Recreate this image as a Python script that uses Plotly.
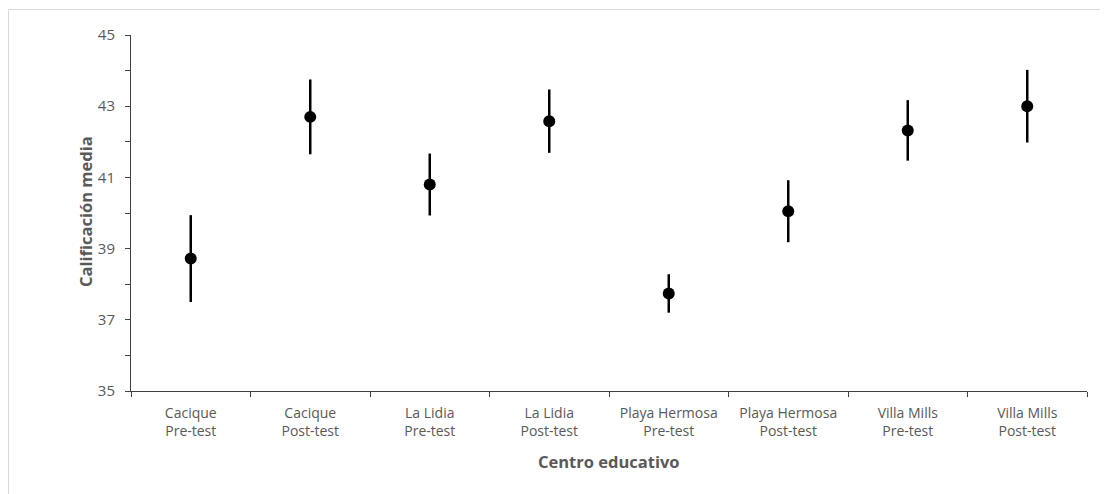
import plotly.graph_objects as go

categories = ["Cacique<br>Pre-test", "Cacique<br>Post-test", "La Lidia<br>Pre-test", "La Lidia<br>Post-test",
              "Playa Hermosa<br>Pre-test", "Playa Hermosa<br>Post-test", "Villa Mills<br>Pre-test", "Villa Mills<br>Post-test"]
means = [38.72, 42.70, 40.80, 42.58, 37.74, 40.05, 42.32, 43.00]
errors = [1.22, 1.05, 0.87, 0.89, 0.54, 0.87, 0.85, 1.02]
y_ticks = [35, 37, 39, 41, 43, 45]

FONT = "Open Sans"
GRAY = "#595959"
AXIS = "#404040"

OFF = 8  # page body offset
W, H = 1100, 486
L, R, T, B = 131 - OFF, 21, 35 - OFF, 103
pw, ph = W - L - R, H - T - B

def px(x):
    return (x - OFF - L) / pw

def py(y):
    return (H - B - (y - OFF)) / ph

fig = go.Figure()
fig.add_trace(go.Scatter(
    x=categories, y=means, mode="markers",
    marker=dict(color="black", size=12),
    error_y=dict(type="data", array=errors, visible=True, color="black", thickness=2.5, width=0),
    showlegend=False,
))

fig.update_layout(
    width=W, height=H,
    margin=dict(l=L, r=R, t=T, b=B),
    paper_bgcolor="white", plot_bgcolor="white",
    font=dict(family=FONT, color=GRAY, size=14),
    xaxis=dict(
        type="category", range=[-0.5, 7.5], showgrid=False, zeroline=False,
        showline=True, linecolor=AXIS, linewidth=1,
        ticks="outside", tickson="boundaries", ticklen=5, tickcolor=AXIS,
        ticklabelstandoff=9,
        tickfont=dict(family=FONT, size=14, color=GRAY),
    ),
    yaxis=dict(
        range=[35, 45], tickvals=y_ticks, showgrid=False, zeroline=False,
        showline=True, linecolor=AXIS, linewidth=1,
        ticks="outside", ticklen=5, tickcolor=AXIS,
        ticklabelstandoff=7,
        minor=dict(dtick=1, ticks="outside", ticklen=5, tickcolor=AXIS, showgrid=False),
        tickfont=dict(family=FONT, size=15, color=GRAY),
    ),
    annotations=[
        dict(text="<b>Centro educativo</b>", xref="paper", yref="paper", x=0.5, y=py(461),
             showarrow=False, xanchor="center", yanchor="middle",
             font=dict(family=FONT, size=16.5, color=GRAY)),
        dict(text="<b>Calificación media</b>", xref="paper", yref="paper", x=px(85), y=py(212),
             showarrow=False, xanchor="center", yanchor="middle", textangle=-90,
             font=dict(family=FONT, size=16.5, color=GRAY)),
    ],
    shapes=[
        dict(type="rect", xref="paper", yref="paper", x0=px(8.5), y0=py(520), x1=px(1130), y1=py(9.5),
             line=dict(color="#D9D9D9", width=1), fillcolor="rgba(0,0,0,0)", layer="below"),
    ],
)

fig.write_html("out.html")
